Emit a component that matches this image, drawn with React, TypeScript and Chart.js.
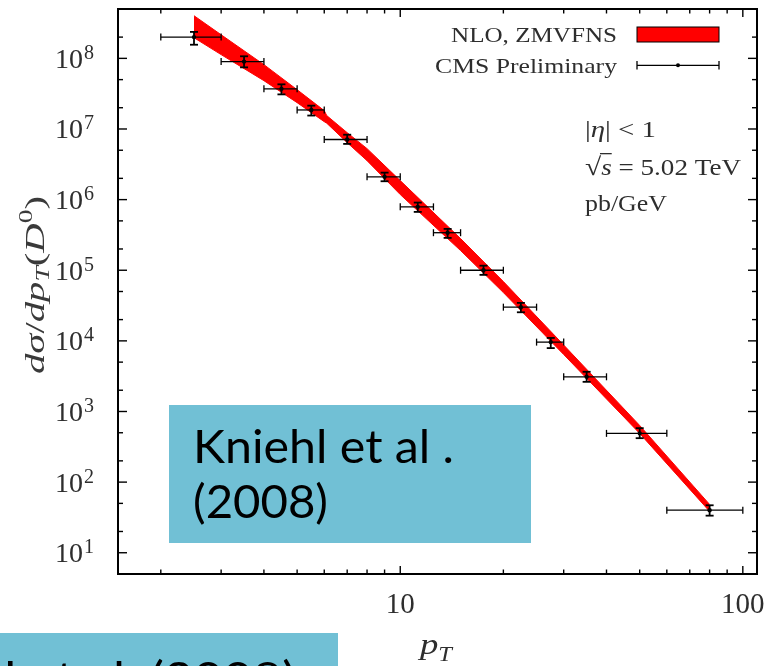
import React, { useEffect, useRef } from "react";
import { Chart, registerables } from "chart.js";

Chart.register(...registerables);

const W = 771;
const H = 666;

// ---- CMS Preliminary data (D0, |eta|<1, sqrt(s)=5.02 TeV) ----
const ptCenter = [2.5, 3.5, 4.5, 5.5, 7, 9, 11.25, 13.75, 17.5, 22.5, 27.5, 35, 50, 80];
const ptLow = [2, 3, 4, 5, 6, 8, 10, 12.5, 15, 20, 25, 30, 40, 60];
const ptHigh = [3, 4, 5, 6, 8, 10, 12.5, 15, 20, 25, 30, 40, 60, 100];
const cmsValue = [2.0e8, 9.0e7, 3.7e7, 1.86e7, 7.1e6, 2.1e6, 7.9e5, 3.4e5, 1.0e5, 3.0e4, 9.6e3, 3.1e3, 490, 40];
const cmsUp = [2.37e8, 1.07e8, 4.29e7, 2.14e7, 8.3e6, 2.41e6, 9.08e5, 3.85e5, 1.16e5, 3.45e4, 1.1e4, 3.65e3, 581, 47];
const cmsDown = [1.56e8, 7.46e7, 3.09e7, 1.55e7, 6.15e6, 1.82e6, 6.7e5, 2.87e5, 8.6e4, 2.54e4, 7.9e3, 2.63e3, 419, 33.5];

// ---- NLO, ZMVFNS band ----
const bandPt = [2.5, 3, 4, 5, 6, 6.1, 7, 8, 10, 15, 20, 30, 50, 80];
const bandUpper = [4.02e8, 2.16e8, 8.15e7, 3.6e7, 1.82e7, 1.55e7, 8.87e6, 5.27e6, 1.86e6, 2.81e5, 6.92e4, 8.73e3, 634, 48.3];
const bandLower = [1.96e8, 1.13e8, 4.83e7, 2.36e7, 1.27e7, 1.21e7, 6.41e6, 3.56e6, 1.18e6, 1.9e5, 4.83e4, 6.41e3, 489, 38.5];

// ---- axes ----
const xTickValues = [2, 3, 4, 5, 6, 7, 8, 9, 10, 20, 30, 40, 50, 60, 70, 80, 90, 100];
const xLabelValues = [10, 100];
const xTickLabels = ["10", "100"];
const yExponents = [1, 2, 3, 4, 5, 6, 7, 8];
const yTickLabels = ["1", "2", "3", "4", "5", "6", "7", "8"];
const yMinorMultipliers = [2, 5];

const SERIF = '"Liberation Serif", "DejaVu Serif", serif';
const TEXT = "#2e2e2e";
const BOX = "#71c0d5";
const BOX_FONT = '"Lato", "Open Sans", sans-serif';

type Seg = { t: string; f: string; dy?: number; overY?: number };

function natWidth(ctx: CanvasRenderingContext2D, segs: Seg[]) {
  let w = 0;
  for (const s of segs) {
    ctx.font = s.f;
    w += ctx.measureText(s.t).width;
  }
  return w;
}

function drawRich(
  ctx: CanvasRenderingContext2D,
  segs: Seg[],
  x: number,
  y: number,
  opts: { align?: "left" | "right" | "center"; width?: number; rotate?: number; color?: string } = {}
) {
  const nat = natWidth(ctx, segs);
  const sx = opts.width ? opts.width / nat : 1;
  const total = nat * sx;
  ctx.save();
  ctx.translate(x, y);
  if (opts.rotate) ctx.rotate(opts.rotate);
  const x0 = opts.align === "right" ? -total : opts.align === "center" ? -total / 2 : 0;
  ctx.translate(x0, 0);
  ctx.scale(sx, 1);
  ctx.fillStyle = opts.color || TEXT;
  ctx.textAlign = "left";
  ctx.textBaseline = "alphabetic";
  let cx = 0;
  for (const s of segs) {
    ctx.font = s.f;
    const w = ctx.measureText(s.t).width;
    ctx.fillText(s.t, cx, s.dy || 0);
    if (s.overY !== undefined) {
      ctx.fillRect(cx - 1, s.overY, w + 1, 1.3);
    }
    cx += w;
  }
  ctx.restore();
}

function line(ctx: CanvasRenderingContext2D, x1: number, y1: number, x2: number, y2: number) {
  ctx.beginPath();
  ctx.moveTo(x1, y1);
  ctx.lineTo(x2, y2);
  ctx.stroke();
}

const decor = {
  id: "decor",
  afterDatasetsDraw(chart: any) {
    const ctx: CanvasRenderingContext2D = chart.ctx;
    const xs = chart.scales.x;
    const ys = chart.scales.y;
    ctx.save();
    ctx.strokeStyle = "#000";
    for (let i = 0; i < ptCenter.length; i++) {
      const xc = xs.getPixelForValue(ptCenter[i]);
      const yc = ys.getPixelForValue(cmsValue[i]);
      const xl = xs.getPixelForValue(ptLow[i]);
      const xh = xs.getPixelForValue(ptHigh[i]);
      const yu = ys.getPixelForValue(cmsUp[i]);
      const yd = ys.getPixelForValue(cmsDown[i]);
      ctx.lineWidth = 1.3;
      line(ctx, xl, yc, xh, yc);
      line(ctx, xl, yc - 3.5, xl, yc + 3.5);
      line(ctx, xh, yc - 3.5, xh, yc + 3.5);
      ctx.lineWidth = 1.8;
      line(ctx, xc, yu, xc, yd);
      line(ctx, xc - 4, yu, xc + 4, yu);
      line(ctx, xc - 4, yd, xc + 4, yd);
    }
    ctx.restore();
  },
  afterDraw(chart: any) {
    const ctx: CanvasRenderingContext2D = chart.ctx;
    const xs = chart.scales.x;
    const ys = chart.scales.y;
    const { left, right, top, bottom } = chart.chartArea;
    ctx.save();

    // ticks
    ctx.strokeStyle = "#000";
    ctx.lineWidth = 1.4;
    for (const v of xTickValues) {
      const px = xs.getPixelForValue(v);
      const len = xLabelValues.includes(v) ? 8 : 4.5;
      line(ctx, px, bottom, px, bottom - len);
      line(ctx, px, top, px, top + len);
    }
    for (const e of yExponents) {
      const py = ys.getPixelForValue(Math.pow(10, e));
      line(ctx, left, py, left + 9, py);
      line(ctx, right, py, right - 9, py);
    }
    for (let e = 0; e <= 8; e++) {
      for (const m of yMinorMultipliers) {
        const v = m * Math.pow(10, e);
        if (v <= 5 || v >= 5e8) continue;
        const py = ys.getPixelForValue(v);
        line(ctx, left, py, left + 5, py);
        line(ctx, right, py, right - 5, py);
      }
    }

    // frame
    ctx.lineWidth = 2;
    ctx.strokeRect(left, top, right - left, bottom - top);

    // y tick labels
    ctx.fillStyle = TEXT;
    yExponents.forEach((e, i) => {
      const py = ys.getPixelForValue(Math.pow(10, e));
      ctx.font = `28px ${SERIF}`;
      ctx.textAlign = "right";
      ctx.textBaseline = "alphabetic";
      ctx.fillText("10", 83, py + 9.5);
      ctx.font = `20px ${SERIF}`;
      ctx.textAlign = "left";
      ctx.fillText(yTickLabels[i], 84, py + 0.5);
    });

    // x tick labels
    xLabelValues.forEach((v, i) => {
      const px = xs.getPixelForValue(v);
      ctx.font = `29px ${SERIF}`;
      ctx.textAlign = "center";
      ctx.textBaseline = "alphabetic";
      ctx.fillText(xTickLabels[i], px, 613);
    });

    // axis titles
    drawRich(
      ctx,
      [
        { t: "p", f: `italic 30px ${SERIF}` },
        { t: "T", f: `italic 20px ${SERIF}`, dy: 7 },
      ],
      420,
      654,
      { width: 32 }
    );
    drawRich(
      ctx,
      [
        { t: "d", f: `italic 28px ${SERIF}` },
        { t: "σ", f: `italic 28px ${SERIF}` },
        { t: "/", f: `28px ${SERIF}` },
        { t: "d", f: `italic 28px ${SERIF}` },
        { t: "p", f: `italic 28px ${SERIF}` },
        { t: "T", f: `italic 19px ${SERIF}`, dy: 5 },
        { t: "(", f: `28px ${SERIF}` },
        { t: "D", f: `italic 28px ${SERIF}` },
        { t: "0", f: `19px ${SERIF}`, dy: -12 },
        { t: ")", f: `28px ${SERIF}` },
      ],
      44,
      374,
      { rotate: -Math.PI / 2, width: 178, color: "#3a3a3a" }
    );

    // legend
    drawRich(ctx, [{ t: "NLO, ZMVFNS", f: `22px ${SERIF}` }], 617, 41.5, { align: "right", width: 166 });
    drawRich(ctx, [{ t: "CMS Preliminary", f: `22px ${SERIF}` }], 617, 73, { align: "right", width: 182 });
    ctx.fillStyle = "#ff0000";
    ctx.fillRect(637, 27, 82, 15);
    ctx.strokeStyle = "#000";
    ctx.lineWidth = 1;
    ctx.strokeRect(637, 27, 82, 15);
    ctx.lineWidth = 1.3;
    line(ctx, 637, 65.3, 719, 65.3);
    line(ctx, 637, 61, 637, 69.6);
    line(ctx, 719, 61, 719, 69.6);
    ctx.fillStyle = "#000";
    ctx.beginPath();
    ctx.arc(678, 65.3, 2, 0, Math.PI * 2);
    ctx.fill();

    // annotations
    drawRich(
      ctx,
      [
        { t: "|", f: `23px ${SERIF}` },
        { t: "η", f: `italic 23px ${SERIF}` },
        { t: "| < 1", f: `23px ${SERIF}` },
      ],
      585,
      137,
      { width: 71 }
    );
    drawRich(
      ctx,
      [
        { t: "√", f: `25px ${SERIF}` },
        { t: "s", f: `italic 23px ${SERIF}`, overY: -22 },
        { t: " = 5.02 TeV", f: `23px ${SERIF}` },
      ],
      585,
      175,
      { width: 156 }
    );
    drawRich(ctx, [{ t: "pb/GeV", f: `23px ${SERIF}` }], 585, 211, { width: 82 });

    // overlay boxes
    ctx.fillStyle = BOX;
    ctx.fillRect(169, 405, 362, 138);
    drawRich(ctx, [{ t: "Kniehl et al .", f: `47px ${BOX_FONT}` }], 193, 463, { width: 261, color: "#000" });
    drawRich(ctx, [{ t: "(2008)", f: `47px ${BOX_FONT}` }], 193, 518, { width: 135, color: "#000" });

    ctx.save();
    ctx.beginPath();
    ctx.rect(0, 633, 338, 33);
    ctx.clip();
    ctx.fillStyle = BOX;
    ctx.fillRect(0, 633, 338, 33);
    drawRich(ctx, [{ t: "Kniehl et al. (2008)", f: `47px ${BOX_FONT}` }], -126, 695, { width: 422, color: "#000" });
    ctx.restore();

    ctx.restore();
  },
};

export default function App() {
  const ref = useRef<HTMLCanvasElement | null>(null);

  useEffect(() => {
    if (!ref.current) return;
    const chart = new Chart(ref.current, {
      type: "scatter",
      data: {
        datasets: [
          {
            label: "CMS Preliminary",
            data: ptCenter.map((x, i) => ({ x, y: cmsValue[i] })),
            pointRadius: 2.2,
            pointBackgroundColor: "#000",
            pointBorderWidth: 0,
            showLine: false,
          },
          {
            type: "line",
            label: "NLO upper",
            data: bandPt.map((x, i) => ({ x, y: bandUpper[i] })),
            borderColor: "#ff0000",
            borderWidth: 1,
            pointRadius: 0,
            fill: false,
            tension: 0,
          },
          {
            type: "line",
            label: "NLO, ZMVFNS",
            data: bandPt.map((x, i) => ({ x, y: bandLower[i] })),
            borderColor: "#ff0000",
            backgroundColor: "#ff0000",
            borderWidth: 1,
            pointRadius: 0,
            fill: "-1",
            tension: 0,
          },
        ] as any,
      },
      options: {
        responsive: false,
        animation: false,
        devicePixelRatio: 1,
        events: [],
        layout: { padding: { left: 118, right: 14, top: 9, bottom: 92 } },
        scales: {
          x: { type: "logarithmic", min: 1.5, max: 110, display: false },
          y: { type: "logarithmic", min: 5, max: 5e8, display: false },
        },
        plugins: { legend: { display: false }, tooltip: { enabled: false } },
      } as any,
      plugins: [decor],
    });
    return () => chart.destroy();
  }, []);

  return (
    <div style={{ position: "fixed", left: 0, top: 0, width: W, height: H, background: "#fff" }}>
      <canvas ref={ref} width={W} height={H} style={{ width: W, height: H, display: "block" }} />
    </div>
  );
}
